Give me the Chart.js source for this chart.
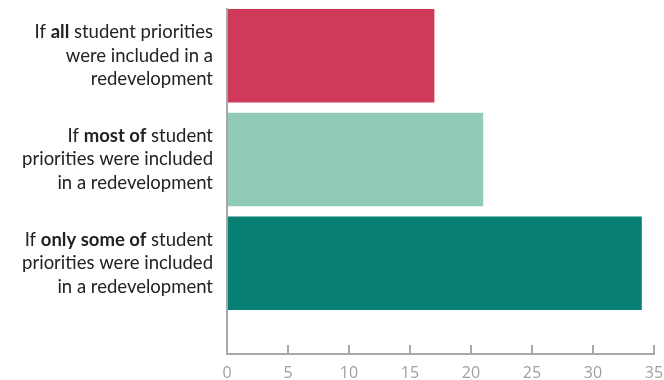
<!DOCTYPE html>
<html>
<head>
<meta charset="utf-8">
<script src="https://cdn.jsdelivr.net/npm/chart.js@4"></script>
<style>
    html, body { margin: 0; padding: 0; background: #fff; }
    #wrap { width: 664px; height: 380px; }
</style>
</head>
<body>
<div id="wrap"><canvas id="barChart"></canvas></div>
<script>
// Category labels, one entry per line; **...** marks the bold part
const categories = [
    ['If **all** student priorities', 'were included in a', 'redevelopment'],
    ['If **most of** student', 'priorities were included', 'in a redevelopment'],
    ['If **only some of** student', 'priorities were included', 'in a redevelopment']
];
const values = [17, 21, 34];
const barColors = ['#CF3A5B', '#8FCBB6', '#077F73'];
const xTicks = [0, 5, 10, 15, 20, 25, 30, 35];

const LABEL_FONT = 'Lato, "Noto Sans", sans-serif';
const LABEL_SIZE = 18.5;

/**
 * Draws the multi-line category labels with bold fragments
 */
const richLabels = {
    id: 'richLabels',
    afterDraw(chart) {
        const ctx = chart.ctx;
        const yScale = chart.scales.y;
        const right = chart.chartArea.left - 14;
        const lineHeight = 23.5;
        ctx.save();
        ctx.textBaseline = 'middle';
        ctx.fillStyle = '#222';
        categories.forEach((lines, i) => {
            const cy = yScale.getPixelForValue(i);
            const top = cy - (lines.length - 1) * lineHeight / 2;
            lines.forEach((line, j) => {
                const parts = line.split('**').map((t, k) => ({ text: t, bold: k % 2 === 1 }));
                let width = 0;
                parts.forEach(p => {
                    ctx.font = (p.bold ? 'bold ' : '') + LABEL_SIZE + 'px ' + LABEL_FONT;
                    p.w = ctx.measureText(p.text).width;
                    width += p.w;
                });
                let x = right - width;
                const y = top + j * lineHeight;
                parts.forEach(p => {
                    ctx.font = (p.bold ? 'bold ' : '') + LABEL_SIZE + 'px ' + LABEL_FONT;
                    ctx.textAlign = 'left';
                    ctx.fillText(p.text, x, y);
                    x += p.w;
                });
            });
        });
        ctx.restore();
    }
};

new Chart(document.getElementById('barChart'), {
    type: 'bar',
    data: {
        datasets: [{
            data: values.map((v, i) => ({ x: v, y: i })),
            backgroundColor: barColors,
            borderWidth: 0,
            barPercentage: 0.9,
            categoryPercentage: 1
        }]
    },
    options: {
        indexAxis: 'y',
        responsive: true,
        maintainAspectRatio: false,
        animation: false,
        layout: {
            padding: { top: 9, right: 2, bottom: 0, left: 0 }
        },
        plugins: {
            legend: { display: false },
            tooltip: { enabled: false }
        },
        scales: {
            x: {
                type: 'linear',
                min: 0,
                max: 35,
                afterBuildTicks: (scale) => {
                    scale.ticks = xTicks.map(v => ({ value: v }));
                },
                afterFit: (scale) => {
                    scale.height = 26;
                    scale.paddingLeft = 0;
                    scale.paddingRight = 10;
                },
                grid: {
                    drawOnChartArea: false,
                    color: '#A8A8A8',
                    lineWidth: 2,
                    tickLength: -9
                },
                border: { color: '#A8A8A8', width: 2 },
                ticks: {
                    color: '#A0A0A0',
                    padding: 19,
                    font: { family: '"Open Sans", sans-serif', size: 16 }
                }
            },
            y: {
                type: 'linear',
                reverse: true,
                offset: false,
                min: -0.45,
                max: 2.875,
                afterBuildTicks: (scale) => {
                    scale.ticks = categories.map((c, i) => ({ value: i }));
                },
                afterFit: (scale) => { scale.width = 227; },
                grid: { display: false },
                border: { color: '#A8A8A8', width: 2 },
                ticks: { display: false }
            }
        }
    },
    plugins: [richLabels]
});
</script>
</body>
</html>
